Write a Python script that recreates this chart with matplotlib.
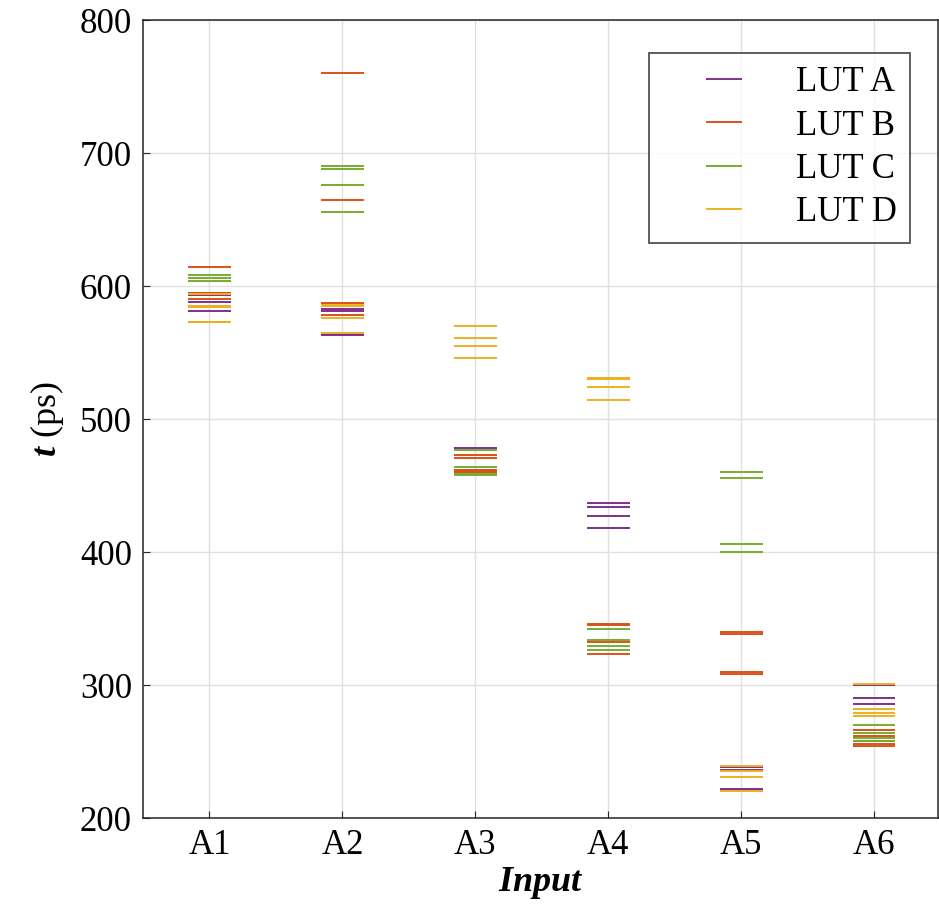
import numpy as np
import matplotlib.pyplot as plt
from matplotlib.collections import LineCollection
from matplotlib.legend_handler import HandlerLineCollection

plt.rcParams['font.family'] = ['Liberation Serif', 'DejaVu Serif']
plt.rcParams['mathtext.fontset'] = 'custom'
plt.rcParams['mathtext.rm'] = 'Liberation Serif'
plt.rcParams['mathtext.it'] = 'Liberation Serif:italic'
plt.rcParams['mathtext.bf'] = 'Liberation Serif:bold'
plt.rcParams['mathtext.bfit'] = 'Liberation Serif:italic:bold'

inputs = ['A1', 'A2', 'A3', 'A4', 'A5', 'A6']
luts = ['LUT A', 'LUT B', 'LUT C', 'LUT D']
colors = ['#7E2F8E', '#D95319', '#77AC30', '#EDB120']

# delay values (ps) per input, 4 runs per LUT
lut_a = [[595, 588, 581, 593], [583, 581, 564, 563], [478, 462, 460, 461],
         [437, 434, 427, 418], [238, 236, 222, 221], [300, 290, 286, 258]]
lut_b = [[614, 590, 573, 595], [760, 665, 587, 578], [473, 471, 462, 460],
         [346, 345, 332, 323], [340, 338, 310, 308], [266, 262, 256, 254]]
lut_c = [[608, 606, 604, 594], [690, 688, 676, 656], [477, 464, 459, 458],
         [342, 334, 329, 326], [460, 456, 406, 400], [270, 264, 260, 258]]
lut_d = [[585, 584, 573, 594], [586, 585, 576, 565], [570, 561, 555, 546],
         [531, 524, 514, 530], [239, 235, 231, 220], [301, 282, 279, 277]]


# short legend line placed at the right end of the handle box (MATLAB look)
class ShortLine(HandlerLineCollection):
    def get_xdata(self, legend, xdescent, ydescent, width, height, fontsize):
        xd = np.array([-xdescent + 0.55 * width, -xdescent + width])
        return xd, xd


fig = plt.figure(figsize=(9.39, 9.11), dpi=100)
ax = fig.add_axes([143 / 939, 1 - 818 / 911, 795 / 939, 798 / 911])

x = np.arange(1, len(inputs) + 1)
hw = 0.16
for vals, col, name in zip([lut_a, lut_b, lut_c, lut_d], colors, luts):
    for i, v in enumerate(vals):
        ax.hlines(v, x[i] - hw, x[i] + hw, color=col, lw=1.4,
                  label=name if i == 0 else None)

ax.set_xlim(0.5, 6.48)
ax.set_ylim(200, 800)
ax.set_xticks(x)
ax.set_xticklabels(inputs)
ax.set_yticks(np.arange(200, 801, 100))
ax.grid(True, color='#e0e0e0', lw=1)
ax.set_axisbelow(True)
ax.tick_params(direction='in', labelsize=25, length=5, color='#262626',
               top=False, right=False, pad=8)
for s in ax.spines.values():
    s.set_color('#262626')
    s.set_linewidth(1.1)

ax.set_xlabel(r'$\mathbfit{Input}$', fontsize=26, labelpad=2)
ax.set_ylabel(r'$\mathbfit{t}$ (ps)', fontsize=26, labelpad=10)

leg = ax.legend(loc='upper right', bbox_to_anchor=(910 / 939, 1 - 53 / 911),
                bbox_transform=fig.transFigure, fontsize=25, frameon=True,
                fancybox=False, edgecolor='#262626', handlelength=2.3,
                handletextpad=1.55, borderpad=0.38, labelspacing=0.3,
                borderaxespad=0, handler_map={LineCollection: ShortLine()})
leg.get_frame().set_linewidth(1.3)

fig.savefig('out.png', dpi=100, facecolor='white')
